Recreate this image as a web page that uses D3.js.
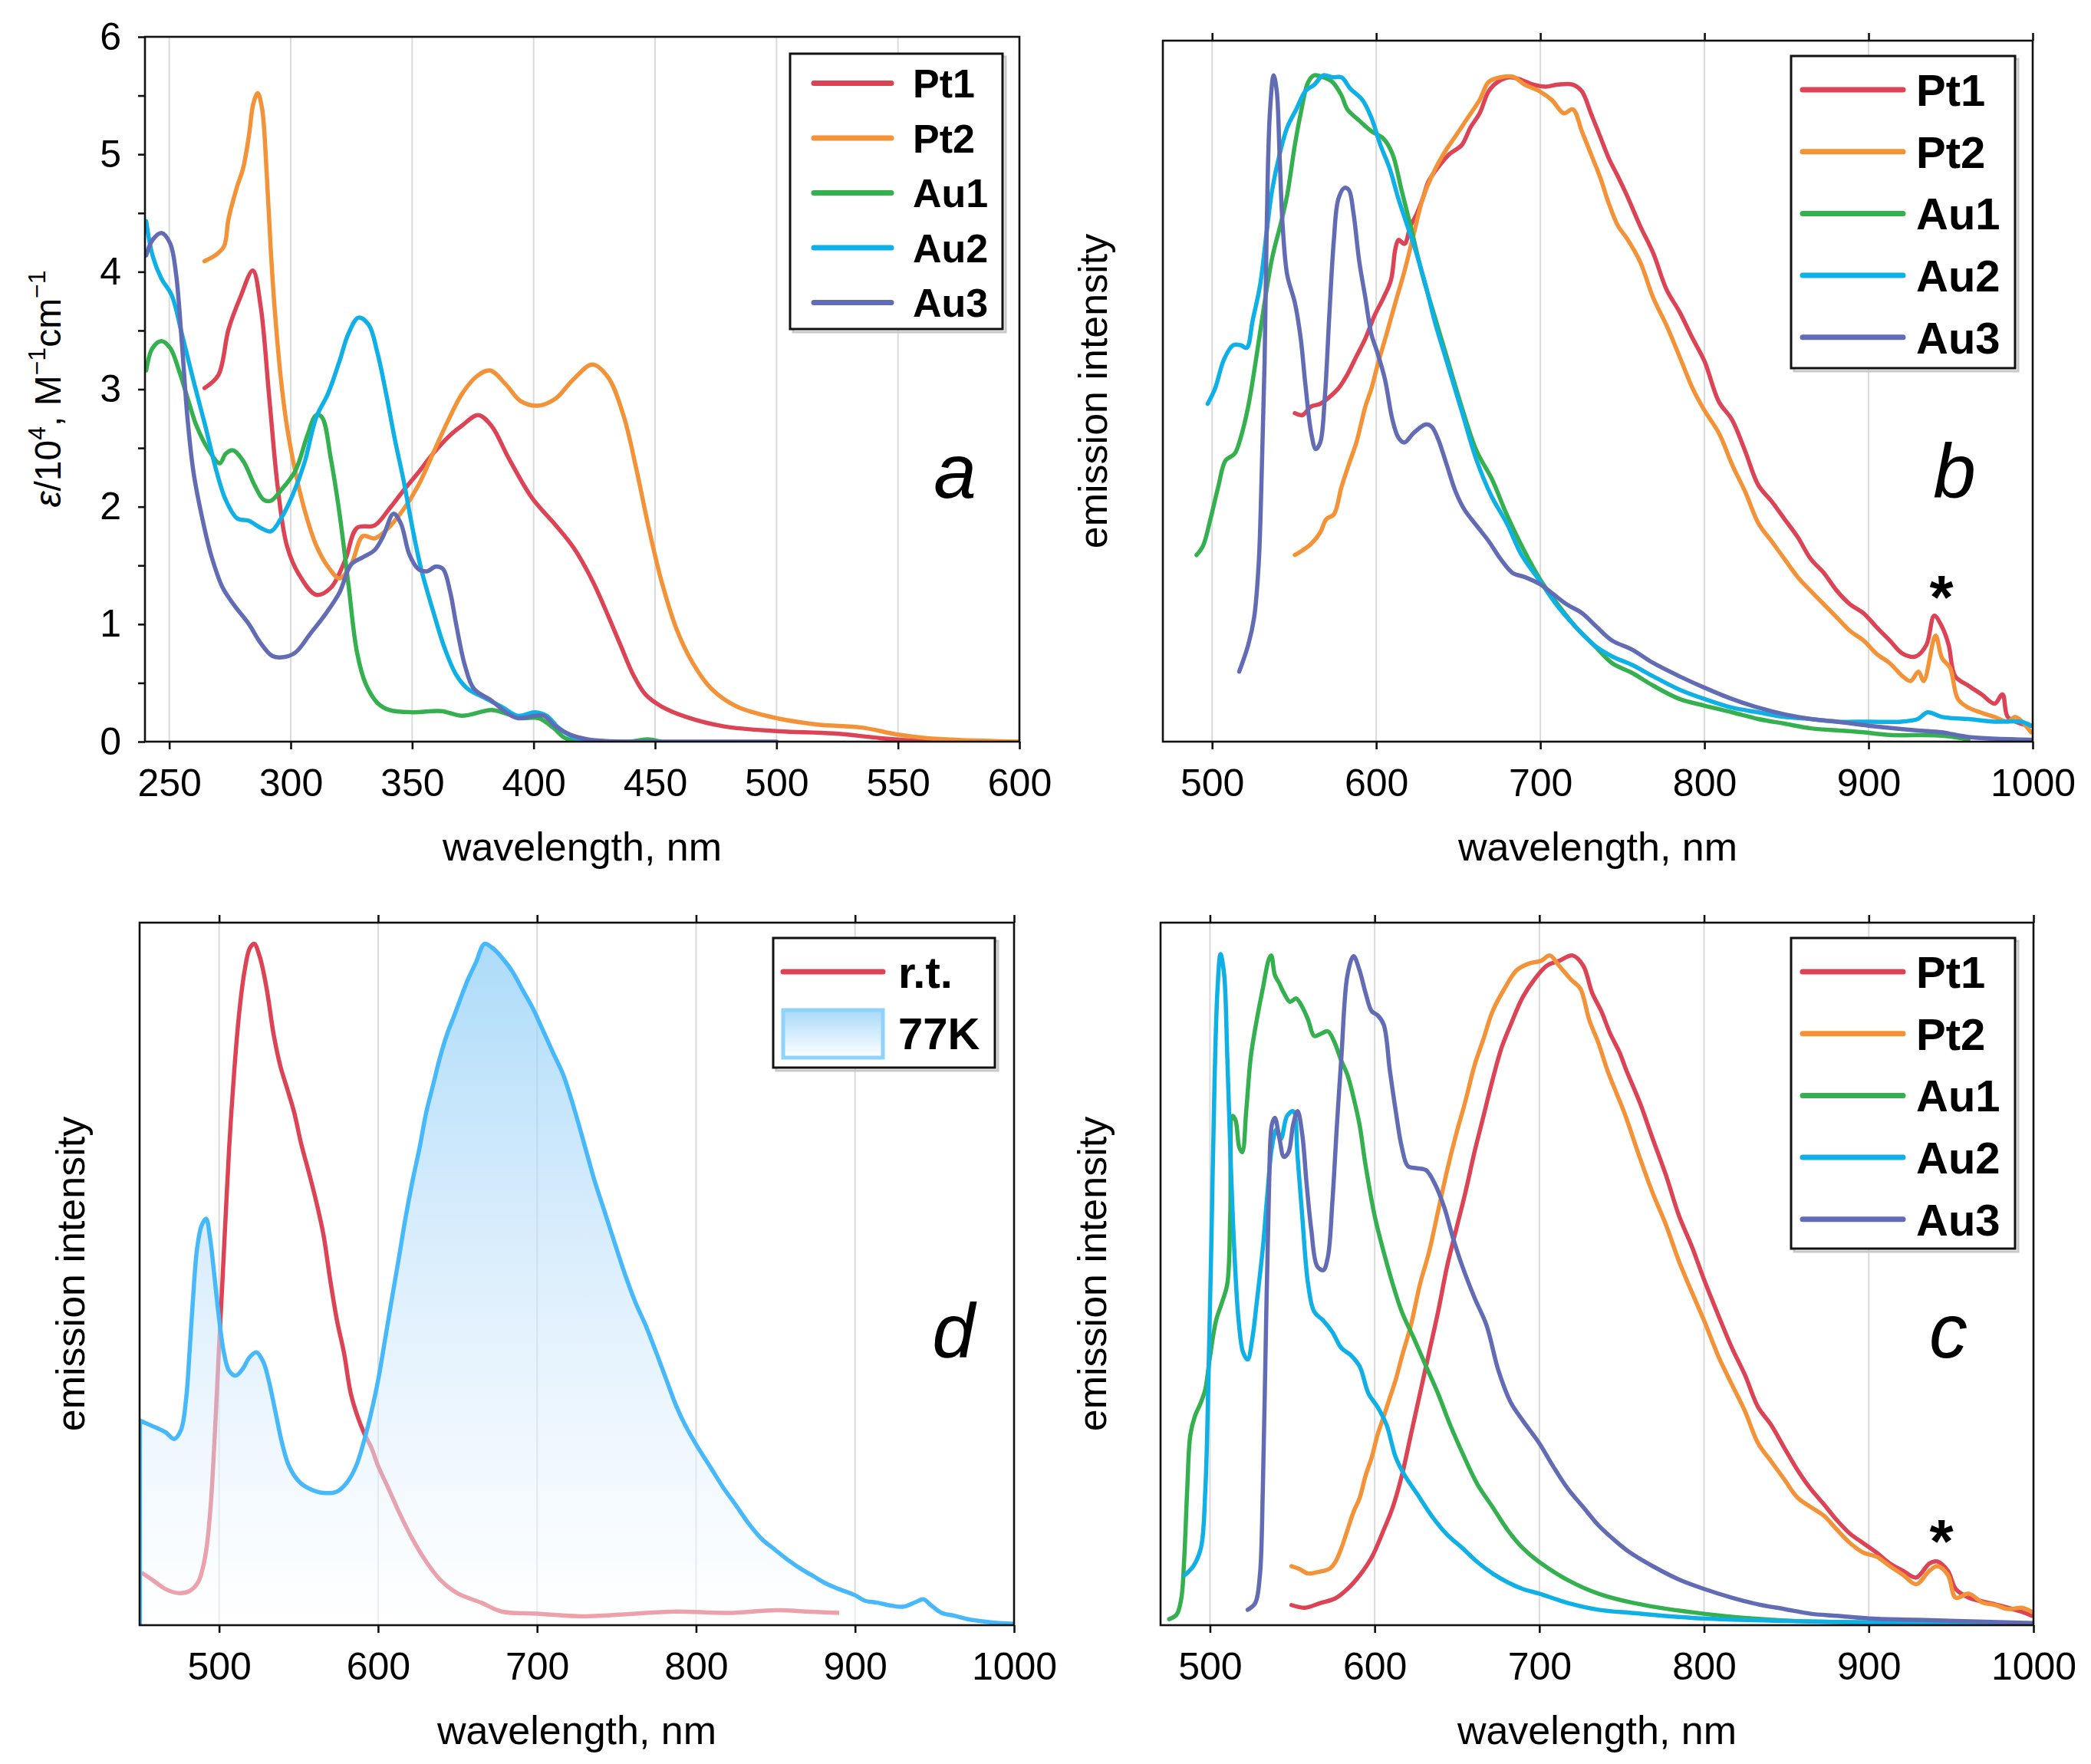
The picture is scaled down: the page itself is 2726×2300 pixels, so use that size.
<!DOCTYPE html>
<html><head><meta charset="utf-8">
<script src="https://cdn.jsdelivr.net/npm/d3@7"></script>
<style>
body{margin:0;background:#fff}
svg{display:block}
text{font-family:"Liberation Sans",Arial,Helvetica,sans-serif;fill:#000}
</style></head>
<body><svg id="chart" width="2726" height="2300"></svg>
<script>
// ---------------- DATA ----------------
const seriesNames = ["Pt1","Pt2","Au1","Au2","Au3"];
const seriesColors = ["#dc4355","#f39237","#35b04f","#0eb0e5","#626cb5"];
const absTicksX = [250,300,350,400,450,500,550,600];
const absTicksY = [0,1,2,3,4,5,6];
const emTicksX = [500,600,700,800,900,1000];

// panel a: absorption, eps/10^4
const absPt1 = [[264.5,3.01],[270.2,3.12],[274.4,3.51],[279.2,3.78],[284.4,4.01],[287.6,3.71],[291.2,2.92],[294.8,2.14],[298.4,1.67],[303.2,1.43],[310.5,1.25],[316.5,1.31],[322.5,1.55],[327.3,1.82],[334.5,1.84],[340.5,1.98],[346.5,2.14],[352.5,2.29],[358.5,2.45],[365.7,2.61],[370.5,2.69],[377.2,2.78],[382.6,2.69],[389.8,2.41],[399.5,2.07],[408.8,1.85],[416.5,1.65],[424.2,1.37],[430.7,1.07],[435.8,0.82],[441,0.57],[446.1,0.40],[452.6,0.30],[462.9,0.21],[478.4,0.13],[500,0.09],[523.5,0.07],[542.8,0.03],[555.7,0.01],[570,0.0]];
const absPt2 = [[264.5,4.09],[269.6,4.15],[272.6,4.22],[274.4,4.45],[278,4.73],[280.4,4.88],[282.8,5.16],[284.6,5.43],[286.4,5.52],[288.2,5.39],[290,4.88],[291.8,4.18],[293.6,3.63],[296,3.08],[298.4,2.69],[302,2.29],[305.6,1.98],[310.5,1.67],[315.3,1.49],[320.1,1.39],[324.9,1.51],[329.7,1.75],[334.5,1.73],[339.3,1.80],[346.5,1.98],[352.5,2.18],[358.5,2.45],[364.5,2.72],[370.5,2.96],[376.6,3.11],[382,3.16],[388.6,3.04],[394.6,2.90],[401.8,2.86],[409,2.92],[416.2,3.08],[424.2,3.21],[430.7,3.10],[437.1,2.77],[442.3,2.32],[447.4,1.82],[452.6,1.37],[459,0.95],[465.5,0.67],[473.2,0.45],[483.5,0.30],[500,0.20],[517,0.145],[535,0.12],[550,0.06],[562,0.03],[575,0.015],[600,0.0]];
const absAu1 = [[240.5,3.16],[243.1,3.35],[246.8,3.41],[250.4,3.35],[254,3.16],[257.6,2.92],[261.2,2.69],[266,2.49],[270.8,2.37],[273.2,2.45],[276.2,2.48],[280.4,2.39],[285.2,2.18],[288.8,2.06],[291.8,2.05],[296,2.14],[302,2.31],[306.9,2.61],[310.5,2.78],[312.9,2.76],[316.5,2.41],[320.1,1.94],[323.7,1.35],[327.3,0.76],[330.9,0.49],[335.7,0.33],[340.5,0.27],[350.1,0.25],[362.1,0.26],[370.5,0.22],[382.6,0.27],[388.6,0.24],[395,0.2],[402,0.2],[408,0.12],[413,0.03],[420,0.0],[440,0.0],[447,0.02],[452,0.0]];
const absAu2 = [[240.5,4.43],[243.1,4.14],[246.8,3.94],[251,3.80],[255.2,3.47],[260,3.07],[264.8,2.69],[269.6,2.29],[273.2,2.06],[278,1.90],[282.8,1.88],[287.6,1.82],[291.8,1.79],[296,1.90],[300.8,2.10],[305.6,2.37],[310.5,2.76],[315.3,2.96],[320.1,3.24],[323.7,3.47],[327.9,3.61],[332.1,3.55],[335.7,3.31],[339.3,2.96],[342.9,2.57],[346.5,2.22],[350.1,1.82],[353.7,1.47],[358.5,1.12],[363.3,0.80],[368.1,0.57],[372.9,0.45],[380.1,0.37],[387.4,0.29],[393.4,0.22],[400.6,0.25],[405.4,0.22],[410.2,0.12],[416.2,0.04],[423.4,0.01],[430,0.0]];
const absAu3 = [[240.5,4.14],[243.1,4.27],[246.8,4.33],[250.4,4.24],[252.8,3.98],[255.2,3.39],[257.6,2.73],[260,2.29],[263.6,1.90],[267.2,1.59],[272,1.31],[276.8,1.16],[282.8,1.0],[287.6,0.84],[292.4,0.73],[297.2,0.72],[302,0.76],[308.1,0.92],[314.1,1.08],[320.1,1.27],[324.9,1.51],[329.7,1.57],[334.5,1.63],[338.1,1.75],[342.3,1.94],[345.3,1.86],[348.9,1.59],[352.5,1.47],[356.1,1.45],[359.7,1.49],[362.7,1.47],[365.7,1.27],[368.1,1.0],[371.7,0.65],[375.4,0.45],[382.6,0.35],[388.6,0.25],[393.4,0.20],[400.6,0.22],[404.2,0.22],[409,0.13],[415,0.06],[422.2,0.02],[430,0.005],[450,0.0],[500,0.0]];

// panel b: emission (normalised)
const emB_Pt1 = [[550.4,0.493],[555,0.49],[560.4,0.503],[565.9,0.507],[571.4,0.517],[576.9,0.53],[582.4,0.551],[587.9,0.578],[593.4,0.605],[598.9,0.639],[604.4,0.666],[609,0.693],[611.7,0.74],[613.6,0.753],[617.2,0.747],[620.9,0.774],[624.5,0.791],[628.2,0.814],[631.9,0.841],[637.4,0.861],[644.7,0.882],[652,0.895],[657.5,0.922],[663,0.943],[668.5,0.976],[674,0.99],[681.3,0.997],[688.6,0.993],[695.9,0.986],[703.3,0.983],[710.6,0.986],[719.8,0.986],[725.3,0.976],[730.8,0.943],[736.3,0.909],[741.8,0.875],[747.3,0.848],[752.7,0.82],[760.8,0.774],[768.8,0.733],[776.8,0.679],[784.8,0.645],[792.8,0.605],[800,0.571],[808.8,0.51],[816.8,0.483],[824.8,0.436],[832.8,0.385],[840.8,0.361],[848.8,0.334],[856.8,0.307],[864.8,0.274],[872.8,0.253],[880.8,0.226],[888.8,0.206],[896.8,0.193],[904.8,0.172],[912.8,0.152],[920.8,0.132],[928.8,0.128],[935.2,0.145],[940,0.189],[944.8,0.172],[948.8,0.145],[952.8,0.098],[960.8,0.084],[968.8,0.071],[976.8,0.057],[981.6,0.071],[984.8,0.037],[992.8,0.027],[999,0.024]];
const emB_Pt2 = [[550.4,0.28],[555,0.287],[560.4,0.297],[565.9,0.314],[569.6,0.334],[574.2,0.341],[578.8,0.382],[583.3,0.416],[587.9,0.449],[593.4,0.503],[597.1,0.53],[600.7,0.564],[606.2,0.611],[611.7,0.659],[617.2,0.706],[622.7,0.76],[628.2,0.814],[633.7,0.848],[641,0.882],[648.4,0.909],[655.7,0.936],[663,0.963],[668.5,0.99],[675.8,0.997],[683.2,0.998],[690.5,0.986],[699.6,0.976],[707,0.963],[714.3,0.943],[719.8,0.949],[725.3,0.916],[730.8,0.882],[736.3,0.848],[741.8,0.807],[747.3,0.774],[752.8,0.755],[760.8,0.72],[768.8,0.666],[776.8,0.625],[784.8,0.578],[792.8,0.53],[800,0.497],[808.8,0.463],[816.8,0.416],[824.8,0.375],[832.8,0.328],[840.8,0.301],[848.8,0.274],[856.8,0.247],[864.8,0.226],[872.8,0.206],[880.8,0.186],[888.8,0.166],[896.8,0.152],[904.8,0.132],[912.8,0.118],[920.8,0.098],[925.6,0.091],[930.4,0.105],[933.6,0.091],[940.8,0.159],[944.8,0.125],[949.6,0.111],[954.4,0.064],[960.8,0.051],[976.8,0.037],[984.8,0.03],[989.6,0.037],[999,0.014]];
const emB_Au1 = [[490.5,0.28],[494.5,0.294],[499,0.334],[503.7,0.382],[508.2,0.422],[513.7,0.432],[517.4,0.456],[522,0.503],[526.6,0.571],[531.1,0.645],[536.6,0.726],[542.1,0.78],[545.8,0.821],[550.4,0.895],[554,0.943],[558.6,0.99],[562.3,1.0],[567.8,0.997],[573.3,0.99],[578.8,0.97],[582.4,0.949],[589.7,0.932],[597.1,0.916],[604.4,0.905],[609.9,0.882],[615.4,0.828],[620.9,0.774],[628.2,0.70],[635.5,0.639],[642.9,0.578],[652,0.503],[661.2,0.436],[670.3,0.395],[679.5,0.341],[688.6,0.294],[700,0.243],[710.6,0.206],[721.6,0.172],[732.6,0.145],[743.6,0.118],[756,0.103],[768.8,0.084],[784.8,0.064],[800,0.054],[816.8,0.044],[832.8,0.034],[848.8,0.027],[864.8,0.02],[880.8,0.017],[896.8,0.014],[912.8,0.01],[944.8,0.009],[960.8,0.003]];
const emB_Au2 = [[497.3,0.507],[501.8,0.53],[507.3,0.574],[512.8,0.595],[517.4,0.595],[521.1,0.591],[524.7,0.632],[529.3,0.686],[533,0.76],[536.6,0.828],[541.2,0.882],[545.8,0.922],[551.3,0.949],[556.8,0.976],[562.3,0.986],[567.8,1.0],[573.3,0.997],[578.8,0.997],[584.2,0.98],[591.6,0.963],[597.1,0.936],[602.6,0.895],[608.1,0.861],[613.6,0.814],[619,0.774],[624.5,0.733],[630,0.686],[635.5,0.632],[642.9,0.571],[652,0.497],[661.2,0.422],[670.3,0.368],[679.5,0.328],[688.6,0.28],[700,0.24],[710.6,0.203],[721.6,0.172],[732.6,0.145],[743.6,0.128],[756,0.115],[768.8,0.098],[784.8,0.078],[800,0.064],[816.8,0.051],[832.8,0.044],[848.8,0.037],[864.8,0.034],[880.8,0.03],[900,0.03],[920,0.03],[930,0.034],[936,0.044],[944.8,0.037],[960.8,0.034],[976.8,0.03],[992.8,0.03],[999,0.024]];
const emB_Au3 = [[516.5,0.105],[522,0.145],[525.6,0.186],[528.4,0.267],[530.2,0.40],[532,0.571],[533.3,0.774],[535.2,0.943],[537.5,1.0],[539.4,0.976],[541.2,0.875],[543,0.774],[545.8,0.70],[550.4,0.659],[554,0.605],[556.8,0.537],[560.4,0.463],[563.2,0.439],[565.9,0.449],[568.7,0.517],[571.4,0.639],[574.2,0.753],[576.9,0.814],[580.6,0.831],[583.3,0.828],[586.1,0.794],[589.7,0.72],[593.4,0.666],[597.1,0.611],[600.7,0.584],[605.3,0.544],[609.9,0.483],[613.6,0.456],[617.2,0.449],[622.7,0.463],[630,0.476],[633.7,0.473],[637.4,0.456],[642.9,0.416],[648.4,0.375],[653.8,0.348],[661.2,0.324],[668.5,0.301],[675.8,0.274],[683.2,0.253],[690.5,0.247],[700,0.236],[707,0.223],[716.1,0.206],[725.3,0.193],[734.4,0.172],[743.6,0.152],[756,0.138],[768.8,0.118],[784.8,0.098],[800,0.081],[816.8,0.064],[832.8,0.051],[848.8,0.041],[864.8,0.034],[880.8,0.03],[900,0.024],[928.8,0.017],[944.8,0.014],[960.8,0.007],[999,0.003]];

// panel c: emission 77K (normalised)
const emC_Pt1 = [[549.5,0.03],[557.8,0.026],[567,0.033],[576.1,0.04],[583.5,0.054],[590.8,0.074],[598.2,0.101],[605.5,0.142],[611,0.176],[616.5,0.223],[622,0.284],[627.5,0.345],[633,0.406],[638.5,0.467],[644,0.535],[649.5,0.59],[655,0.644],[660.6,0.705],[666.1,0.759],[671.6,0.813],[677.1,0.861],[682.6,0.895],[689.9,0.936],[697.2,0.963],[704.6,0.983],[711.9,0.99],[720.2,0.998],[726.6,0.983],[732.1,0.942],[737.6,0.915],[743.1,0.881],[748.6,0.854],[752.8,0.827],[760.8,0.78],[768.8,0.725],[776.8,0.671],[784.8,0.61],[792.8,0.563],[800,0.515],[808.8,0.461],[816.8,0.414],[824.8,0.373],[832.8,0.325],[840.8,0.298],[848.8,0.264],[856.8,0.231],[864.8,0.203],[872.8,0.18],[880.8,0.156],[888.8,0.136],[896.8,0.122],[904.8,0.108],[912.8,0.092],[920.8,0.081],[928.8,0.071],[936.8,0.092],[941.6,0.095],[948,0.081],[952.8,0.054],[960.8,0.041],[976.8,0.031],[992.8,0.02],[999,0.014]];
const emC_Pt2 = [[549.5,0.088],[554.1,0.084],[559.6,0.077],[565.1,0.079],[572.5,0.084],[576.1,0.094],[579.8,0.115],[583.5,0.142],[587.2,0.169],[590.8,0.189],[594.5,0.223],[598.2,0.25],[601.8,0.284],[605.5,0.311],[609.2,0.339],[612.8,0.366],[616.5,0.4],[622,0.447],[627.5,0.508],[633,0.556],[638.5,0.617],[644,0.678],[649.5,0.732],[655,0.78],[660.6,0.834],[666.1,0.874],[671.6,0.915],[678.9,0.949],[686.2,0.976],[693.6,0.986],[700.9,0.99],[706.4,0.998],[711.9,0.983],[719.3,0.962],[724.8,0.949],[730.3,0.902],[735.8,0.868],[741.3,0.827],[746.8,0.793],[752.3,0.759],[760.8,0.698],[768.8,0.644],[776.8,0.597],[784.8,0.542],[792.8,0.495],[800,0.454],[808.8,0.4],[816.8,0.359],[824.8,0.319],[832.8,0.271],[840.8,0.244],[848.8,0.217],[856.8,0.19],[864.8,0.176],[872.8,0.163],[880.8,0.142],[888.8,0.122],[896.8,0.108],[904.8,0.102],[912.8,0.088],[920.8,0.075],[928.8,0.061],[936.8,0.081],[941.6,0.088],[948,0.075],[952.8,0.041],[960.8,0.047],[968.8,0.034],[976.8,0.03],[984.8,0.024],[992.8,0.026],[999,0.02]];
const emC_Au1 = [[475.2,0.009],[479.8,0.016],[482.6,0.04],[484.4,0.101],[486.2,0.203],[488.1,0.284],[490.8,0.311],[494.5,0.332],[497.2,0.352],[500,0.4],[503.7,0.454],[507.3,0.481],[510.5,0.508],[512.3,0.61],[513.8,0.759],[515.6,0.752],[517.8,0.712],[519.6,0.705],[522,0.766],[524.8,0.847],[528.4,0.902],[532.1,0.949],[535.8,0.993],[537.2,0.998],[539.4,0.969],[542.2,0.956],[544.9,0.942],[548.6,0.929],[552.3,0.934],[555.9,0.922],[559.6,0.902],[563.3,0.878],[567,0.881],[571.6,0.885],[575.2,0.871],[579.8,0.841],[583.5,0.82],[587.2,0.786],[590.8,0.746],[594.5,0.685],[600,0.61],[605.5,0.556],[611,0.508],[616.5,0.467],[623.9,0.427],[631.2,0.386],[638.5,0.345],[645.9,0.298],[653.2,0.257],[662.4,0.21],[671.6,0.176],[680.7,0.142],[689.9,0.115],[700,0.094],[717.4,0.067],[735.8,0.047],[757.4,0.033],[800,0.017],[848.8,0.007],[900,0.004],[1000,0.002]];
const emC_Au2 = [[484.4,0.074],[489.9,0.088],[494.5,0.115],[497.2,0.203],[499.1,0.372],[500.9,0.576],[502.8,0.813],[504.6,0.949],[506.4,1.0],[508.6,0.97],[510.5,0.848],[512.3,0.712],[514.7,0.562],[517.4,0.454],[520.2,0.406],[522.9,0.396],[525.7,0.427],[528.4,0.481],[532.1,0.562],[534.9,0.644],[537.6,0.712],[540.4,0.739],[543.1,0.725],[546.8,0.759],[550.5,0.766],[553.2,0.698],[556,0.61],[559.6,0.508],[563.3,0.467],[568.8,0.454],[574.3,0.437],[579.8,0.413],[585.3,0.403],[590.8,0.386],[596.3,0.345],[601.8,0.325],[607.3,0.298],[612.8,0.25],[618.3,0.223],[625.7,0.196],[634.9,0.162],[644,0.135],[653.2,0.115],[662.4,0.094],[671.6,0.077],[680.7,0.064],[689.9,0.054],[700,0.047],[717.4,0.033],[735.8,0.023],[757.4,0.018],[800,0.01],[900,0.004],[1000,0.002]];
const emC_Au3 = [[522.9,0.023],[527.5,0.033],[530.3,0.074],[532.1,0.203],[534,0.44],[535.8,0.644],[537.6,0.746],[539.4,0.756],[542.2,0.725],[544.9,0.698],[547.7,0.705],[550.5,0.746],[553.2,0.766],[556,0.732],[558.7,0.657],[561.5,0.59],[565.1,0.535],[568.8,0.529],[571.6,0.549],[574.3,0.63],[577.1,0.746],[579.8,0.847],[583.5,0.969],[587.2,0.997],[590.8,0.976],[594.5,0.942],[598.2,0.915],[601.8,0.909],[605.5,0.895],[609.2,0.827],[612.8,0.766],[616.5,0.712],[620.2,0.684],[625.7,0.681],[631.2,0.678],[636.7,0.657],[642.2,0.623],[647.7,0.576],[653.2,0.535],[660.6,0.488],[667.9,0.447],[675.2,0.379],[682.6,0.332],[689.9,0.305],[700,0.271],[708.3,0.237],[717.4,0.203],[726.6,0.176],[735.8,0.149],[745,0.128],[754,0.11],[768.8,0.088],[784.8,0.068],[800,0.054],[816.8,0.041],[832.8,0.031],[848.8,0.024],[864.8,0.017],[880.8,0.014],[900,0.01],[930,0.008],[1000,0.003]];

// panel d: Au2, room temperature vs 77K
const emD_rt = [[451.2,0.077],[457.7,0.067],[466.3,0.053],[474.9,0.047],[481.4,0.05],[486.8,0.063],[491.2,0.1],[494.4,0.166],[497,0.266],[499.8,0.4],[502,0.5],[504.1,0.599],[506.3,0.699],[509.5,0.812],[512.7,0.899],[516,0.959],[519.2,0.992],[522,0.999],[525.7,0.979],[530,0.932],[534.3,0.866],[538.6,0.819],[542.9,0.786],[547.2,0.752],[551.6,0.706],[557,0.659],[561.3,0.619],[565.6,0.573],[569.9,0.506],[574.2,0.446],[578.5,0.4],[582.8,0.34],[587.1,0.306],[591.5,0.28],[595.8,0.26],[600.1,0.233],[606.6,0.2],[613.1,0.166],[621.7,0.126],[630.3,0.093],[638.9,0.067],[649.7,0.047],[664.8,0.033],[677.8,0.02],[700,0.017],[729.6,0.013],[761.9,0.017],[787.4,0.02],[820,0.018],[850,0.022],[870,0.02],[890,0.018]];
const emD_77K = [[450.2,0.30],[459.9,0.29],[466.3,0.283],[471.7,0.273],[476,0.286],[479.3,0.333],[481.4,0.4],[483.6,0.479],[486.2,0.553],[489,0.586],[491.8,0.596],[494.4,0.566],[497,0.513],[499.8,0.453],[503,0.4],[506.3,0.373],[510.6,0.366],[514.9,0.376],[519.2,0.393],[523.5,0.4],[527.8,0.386],[531.1,0.36],[535.4,0.313],[539.7,0.266],[544,0.233],[550.5,0.21],[557,0.2],[565.6,0.194],[574.2,0.196],[580.7,0.21],[586.1,0.233],[591.5,0.273],[595.8,0.313],[600.1,0.36],[604.4,0.419],[608.7,0.479],[613.1,0.539],[617.4,0.599],[621.7,0.652],[626,0.699],[630.3,0.752],[634.6,0.792],[638.9,0.832],[643.3,0.866],[647.6,0.892],[651.9,0.919],[656.2,0.945],[661.6,0.972],[667,0.999],[672.4,0.992],[677.8,0.979],[684.3,0.959],[690.7,0.932],[697.2,0.905],[703.7,0.872],[710.1,0.839],[716.6,0.806],[723.1,0.759],[729.6,0.706],[736.1,0.652],[742.5,0.606],[749,0.559],[755.5,0.513],[761.9,0.473],[768.4,0.439],[774.9,0.4],[781.3,0.36],[787.4,0.322],[793,0.294],[800,0.265],[809.2,0.231],[817.3,0.201],[825.3,0.175],[833.4,0.148],[841.5,0.126],[849.5,0.111],[857.6,0.096],[865.6,0.083],[873.7,0.072],[881.8,0.061],[889.8,0.053],[900,0.044],[906,0.036],[914,0.033],[922,0.029],[930.1,0.027],[938.2,0.034],[943,0.038],[947.9,0.029],[954.4,0.018],[962.4,0.014],[970.5,0.009],[986.6,0.004],[1000,0.002]];

// ---------------- DRAWING ----------------
const svg = d3.select("#chart");
const FONT = 50;
const defs = svg.append("defs");

function drawPanel(p) {
  const x = d3.scaleLinear().domain(p.xDomain).range([p.x0, p.x1]);
  const y = d3.scaleLinear().domain(p.yDomain).range([p.y1, p.y0]);
  const g = svg.append("g");
  g.selectAll(".grid").data(p.xTicks.filter(t => t > p.xDomain[0] && t < p.xDomain[1]))
    .join("line").attr("x1", d => x(d)).attr("x2", d => x(d))
    .attr("y1", p.y0).attr("y2", p.y1)
    .attr("stroke", "#dadada").attr("stroke-width", 2);
  const clipId = "clip-" + p.id;
  defs.append("clipPath").attr("id", clipId).append("rect")
    .attr("x", p.x0).attr("y", p.y0).attr("width", p.x1 - p.x0).attr("height", p.y1 - p.y0);
  const plot = g.append("g").attr("clip-path", `url(#${clipId})`);
  const line = d3.line().x(d => x(d[0])).y(d => y(d[1])).curve(d3.curveCatmullRom.alpha(0.5));
  p.draw(plot, x, y, line);
  g.append("rect").attr("x", p.x0).attr("y", p.y0).attr("width", p.x1 - p.x0).attr("height", p.y1 - p.y0)
    .attr("fill", "none").attr("stroke", "#111").attr("stroke-width", 2.6);
  const ax = g.append("g").attr("transform", `translate(0,${p.y1})`)
    .call(d3.axisBottom(x).tickValues(p.xTicks).tickSize(10).tickPadding(25).tickFormat(d3.format("d")));
  ax.select(".domain").remove();
  ax.selectAll("line").attr("stroke", "#111").attr("stroke-width", 2.6);
  ax.selectAll("text").attr("font-size", FONT).attr("fill", "#000").style("font-family", '"Liberation Sans",Arial,sans-serif');
  if (p.topTicks) {
    const at = g.append("g").attr("transform", `translate(0,${p.y0})`)
      .call(d3.axisTop(x).tickValues(p.xTicks).tickSize(10).tickFormat(""));
    at.select(".domain").remove();
    at.selectAll("line").attr("stroke", "#111").attr("stroke-width", 2.6);
  }
  if (p.yTicks) {
    const ay = g.append("g").attr("transform", `translate(${p.x0},0)`)
      .call(d3.axisLeft(y).tickValues(p.yTicksMinor).tickSize(9).tickPadding(22)
        .tickFormat(d => p.yTicks.includes(d) ? d3.format("d")(d) : ""));
    ay.select(".domain").remove();
    ay.selectAll("line").attr("stroke", "#111").attr("stroke-width", 2.6);
    ay.selectAll("text").attr("font-size", FONT).attr("fill", "#000").style("font-family", '"Liberation Sans",Arial,sans-serif');
  }
  g.append("text").attr("x", (p.x0 + p.x1) / 2).attr("y", p.y1 + 155)
    .attr("text-anchor", "middle").attr("font-size", 52).text("wavelength, nm");
  g.append("text").attr("x", p.letterX).attr("y", p.letterY).attr("text-anchor", "middle")
    .attr("font-size", 100).attr("font-style", "italic").text(p.letter);
  return {x, y, g};
}

function legend(p) {
  const g = svg.append("g");
  g.append("rect").attr("x", p.bx + 4).attr("y", p.by + 4).attr("width", p.bw).attr("height", p.bh)
    .attr("fill", "none").attr("stroke", "#c8c8c8").attr("stroke-width", 3);
  g.append("rect").attr("x", p.bx).attr("y", p.by).attr("width", p.bw).attr("height", p.bh)
    .attr("fill", "#fff").attr("stroke", "#111").attr("stroke-width", 3);
  p.items.forEach((it, i) => {
    const yy = p.row0 + i * p.dy;
    if (it.swatch) {
      g.append("rect").attr("x", p.lx0).attr("y", yy - 30).attr("width", p.lx1 - p.lx0).attr("height", 62)
        .attr("fill", "url(#legGrad)").attr("stroke", "#8fd2fb").attr("stroke-width", 5);
    } else {
      g.append("line").attr("x1", p.lx0).attr("x2", p.lx1).attr("y1", yy).attr("y2", yy)
        .attr("stroke", it.color).attr("stroke-width", 7).attr("stroke-linecap", "round");
    }
    g.append("text").attr("x", p.tx).attr("y", yy).attr("dy", "0.36em")
      .attr("font-size", p.fs).attr("font-weight", "bold").text(it.name);
  });
}

const LW = 5.5;
function drawSeries(plot, line, sets) {
  sets.forEach((d, i) => {
    plot.append("path").datum(d).attr("d", line).attr("fill", "none")
      .attr("stroke", seriesColors[i]).attr("stroke-width", LW).attr("stroke-linejoin", "round").attr("stroke-linecap", "round");
  });
}

const fillGrad = defs.append("linearGradient").attr("id", "fillGrad")
  .attr("gradientUnits", "userSpaceOnUse").attr("x1", 0).attr("x2", 0).attr("y1", 1228).attr("y2", 2119);
fillGrad.append("stop").attr("offset", 0).attr("stop-color", "#8ccdf7").attr("stop-opacity", 0.72);
fillGrad.append("stop").attr("offset", 0.45).attr("stop-color", "#c4e3fb").attr("stop-opacity", 0.62);
fillGrad.append("stop").attr("offset", 1).attr("stop-color", "#ffffff").attr("stop-opacity", 0.5);
const legGrad = defs.append("linearGradient").attr("id", "legGrad").attr("x1", 0).attr("x2", 0).attr("y1", 0).attr("y2", 1);
legGrad.append("stop").attr("offset", 0).attr("stop-color", "#a9dafa");
legGrad.append("stop").attr("offset", 1).attr("stop-color", "#ffffff");

// ---- panel a ----
drawPanel({
  id: "a", x0: 189, x1: 1329, y0: 48, y1: 967, xDomain: [240, 600], yDomain: [0, 6],
  xTicks: absTicksX, yTicks: absTicksY, yTicksMinor: d3.range(0, 6.01, 0.5), topTicks: false,
  letter: "a", letterX: 1245, letterY: 649,
  draw: (plot, x, y, line) => drawSeries(plot, line, [absPt1, absPt2, absAu1, absAu2, absAu3])
});
svg.append("text").attr("transform", "translate(79,507) rotate(-90)").attr("text-anchor", "middle")
  .attr("font-size", 48)
  .call(t => {
    t.append("tspan").attr("font-style", "italic").text("ε");
    t.append("tspan").text("/10");
    t.append("tspan").attr("font-size", 32).attr("dy", -20).text("4");
    t.append("tspan").attr("dy", 20).text(", M");
    t.append("tspan").attr("font-size", 32).attr("dy", -20).text("−1");
    t.append("tspan").attr("dy", 20).text("cm");
    t.append("tspan").attr("font-size", 32).attr("dy", -20).text("−1");
  });
legend({bx: 1030, by: 70, bw: 277, bh: 359, row0: 108.5, dy: 71.5, lx0: 1061, lx1: 1162, tx: 1190, fs: 52,
  items: seriesNames.map((n, i) => ({name: n, color: seriesColors[i]}))});

// ---- panel b ----
drawPanel({
  id: "b", x0: 1516, x1: 2650, y0: 53, y1: 967, xDomain: [470, 1000], yDomain: [0, 1.052],
  xTicks: emTicksX, topTicks: true, letter: "b", letterX: 2548, letterY: 649,
  draw: (plot, x, y, line) => drawSeries(plot, line, [emB_Pt1, emB_Pt2, emB_Au1, emB_Au2, emB_Au3])
});
svg.append("text").attr("transform", "translate(1443,510) rotate(-90)").attr("text-anchor", "middle")
  .attr("font-size", 52).text("emission intensity");
svg.append("text").attr("x", 2531).attr("y", 806).attr("text-anchor", "middle").attr("font-size", 80)
  .attr("font-weight", "bold").text("*");
legend({bx: 2335, by: 73, bw: 292, bh: 407, row0: 117, dy: 80.7, lx0: 2350, lx1: 2481, tx: 2498, fs: 58,
  items: seriesNames.map((n, i) => ({name: n, color: seriesColors[i]}))});

// ---- panel d ----
drawPanel({
  id: "d", x0: 182, x1: 1322, y0: 1203, y1: 2119, xDomain: [450, 1000], yDomain: [0, 1.03],
  xTicks: emTicksX, topTicks: true, letter: "d", letterX: 1243, letterY: 1770,
  draw: (plot, x, y, line) => {
    plot.append("path").datum(emD_rt).attr("d", line).attr("fill", "none")
      .attr("stroke", "#dc4355").attr("stroke-width", LW).attr("stroke-linejoin", "round");
    const area = d3.area().x(d => x(d[0])).y0(y(0)).y1(d => y(d[1])).curve(d3.curveCatmullRom.alpha(0.5));
    plot.append("path").datum(emD_77K).attr("d", area).attr("fill", "url(#fillGrad)");
    plot.append("path").datum(emD_77K)
      .attr("fill", "none").attr("stroke", "#47b9fb").attr("stroke-width", LW).attr("stroke-linejoin", "round")
      .attr("d", d => `M${x(d[0][0])},${y(0)}L` + line(d).slice(1));
  }
});
svg.append("text").attr("transform", "translate(110,1661) rotate(-90)").attr("text-anchor", "middle")
  .attr("font-size", 52).text("emission intensity");
legend({bx: 1008, by: 1223, bw: 289, bh: 169, row0: 1267, dy: 80, lx0: 1021, lx1: 1151, tx: 1171, fs: 58,
  items: [{name: "r.t.", color: "#dc4355"}, {name: "77K", swatch: true}]});

// ---- panel c ----
drawPanel({
  id: "c", x0: 1513, x1: 2651, y0: 1203, y1: 2119, xDomain: [470, 1000], yDomain: [0, 1.047],
  xTicks: emTicksX, topTicks: true, letter: "c", letterX: 2540, letterY: 1770,
  draw: (plot, x, y, line) => drawSeries(plot, line, [emC_Pt1, emC_Pt2, emC_Au1, emC_Au2, emC_Au3])
});
svg.append("text").attr("transform", "translate(1442,1661) rotate(-90)").attr("text-anchor", "middle")
  .attr("font-size", 52).text("emission intensity");
svg.append("text").attr("x", 2531).attr("y", 2037).attr("text-anchor", "middle").attr("font-size", 80)
  .attr("font-weight", "bold").text("*");
legend({bx: 2335, by: 1223, bw: 292, bh: 405, row0: 1267, dy: 80.7, lx0: 2350, lx1: 2481, tx: 2498, fs: 58,
  items: seriesNames.map((n, i) => ({name: n, color: seriesColors[i]}))});
</script></body></html>
